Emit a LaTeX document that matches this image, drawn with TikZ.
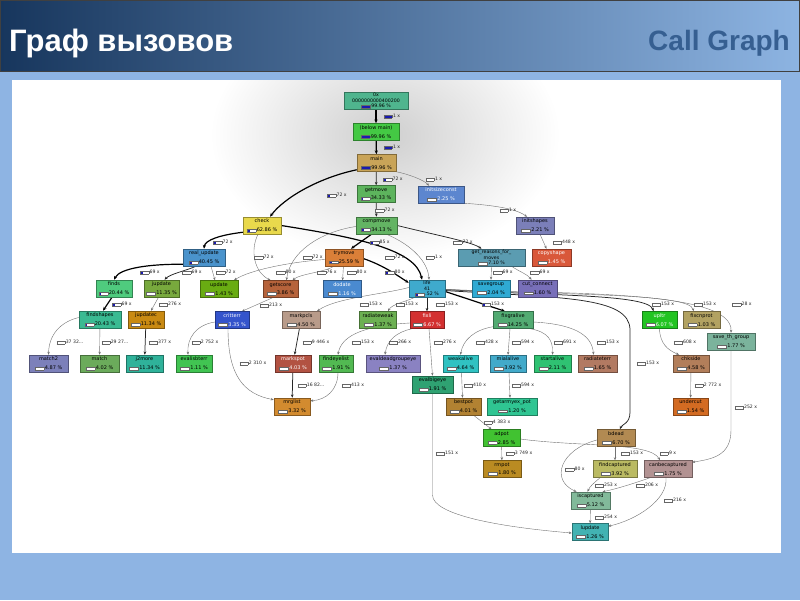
\documentclass[tikz,border=0pt]{standalone}
\usepackage{fontspec}
\setmainfont{DejaVu Sans}
\newfontfamily\hdrfont{Liberation Sans}
\usetikzlibrary{arrows.meta}
\pgfdeclarelayer{bg}
\pgfdeclarelayer{edges}
\pgfsetlayers{bg,edges,main}
\definecolor{bgblue}{HTML}{8EB4E3}
\definecolor{hdrL}{HTML}{17365D}
\definecolor{hdrR}{HTML}{8DB4E2}
\definecolor{hdrtxt}{HTML}{365F91}
\definecolor{barblue}{HTML}{1A1AB0}
\definecolor{c0x}{HTML}{4FB58E}
\definecolor{cbelow}{HTML}{44C944}
\definecolor{cmain}{HTML}{C9A458}
\definecolor{cgetmove}{HTML}{5DB45D}
\definecolor{cinitsc}{HTML}{5C86CF}
\definecolor{ccheck}{HTML}{E9D94C}
\definecolor{ccompmove}{HTML}{63B463}
\definecolor{cinitshapes}{HTML}{7B7FB9}
\definecolor{crealupd}{HTML}{4A93CC}
\definecolor{ctrymove}{HTML}{DA7F38}
\definecolor{cgetreasons}{HTML}{5B9CB1}
\definecolor{ccopyshape}{HTML}{D9583A}
\definecolor{cfinds}{HTML}{4FCB7E}
\definecolor{cjupdate}{HTML}{78A93D}
\definecolor{cupdate}{HTML}{69AC12}
\definecolor{cgetscore}{HTML}{B6633B}
\definecolor{cdodate}{HTML}{4A8AD0}
\definecolor{clife}{HTML}{3FAACD}
\definecolor{csavegroup}{HTML}{2FAAD3}
\definecolor{ccutconn}{HTML}{786FB9}
\definecolor{cfindshapes}{HTML}{3ABA92}
\definecolor{cjupdatec}{HTML}{C98A12}
\definecolor{ccritterr}{HTML}{3454CC}
\definecolor{cmarkpcls}{HTML}{B89B8A}
\definecolor{cradweak}{HTML}{6CB052}
\definecolor{cfixli}{HTML}{D33030}
\definecolor{cfixgral}{HTML}{52AB72}
\definecolor{cupltr}{HTML}{22C422}
\definecolor{cfixcn}{HTML}{B2A262}
\definecolor{csavethg}{HTML}{7BB39C}
\definecolor{cmatch2}{HTML}{7C80BA}
\definecolor{cmatch}{HTML}{6BAB5B}
\definecolor{cj2more}{HTML}{2FB29A}
\definecolor{cevalisb}{HTML}{41C452}
\definecolor{cmarkspot}{HTML}{B25242}
\definecolor{cfindeye}{HTML}{52B952}
\definecolor{cevaldead}{HTML}{8A82C2}
\definecolor{cweak}{HTML}{30C2C2}
\definecolor{cmial}{HTML}{42AACA}
\definecolor{cstart}{HTML}{2FC272}
\definecolor{cradterr}{HTML}{B27A62}
\definecolor{cchkside}{HTML}{B27E5A}
\definecolor{cevalbig}{HTML}{2FA272}
\definecolor{cmrglist}{HTML}{D38B2F}
\definecolor{cbestpot}{HTML}{B28232}
\definecolor{cgetarmy}{HTML}{2FC592}
\definecolor{cundercut}{HTML}{D36B22}
\definecolor{cadpot}{HTML}{41C231}
\definecolor{cbdead}{HTML}{B28A52}
\definecolor{crmpot}{HTML}{BA8B22}
\definecolor{cfindcap}{HTML}{BABA62}
\definecolor{ccanbe}{HTML}{B29292}
\definecolor{ciscap}{HTML}{82BA9A}
\definecolor{clupdate}{HTML}{42B2B2}
\newcommand\pbar[3]{{\setlength\fboxsep{0pt}\setlength\fboxrule{0.3pt}\fcolorbox{black!60}{white}{\textcolor{barblue}{\rule{#3\dimexpr#1\relax}{#2}}\hspace*{\dimexpr#1-#3\dimexpr#1\relax\relax}}}}
\newcommand\pb[1]{\pbar{9pt}{2.3pt}{#1}\kern0.6pt}
\newcommand\eb[1]{\pbar{8pt}{2.3pt}{#1}\kern0.6pt}
\begin{document}
\begin{tikzpicture}[x=1pt,y=-1pt,
  gn/.style={rectangle, fill=#1, draw=#1!65!black, line width=0.5pt, minimum height=17pt, inner sep=0pt, align=center, font=\fontsize{5}{8.6}\selectfont},
  three/.style={font=\fontsize{4.7}{5.5}\selectfont},
  el/.style={inner sep=0.3pt, font=\fontsize{4.6}{5}\selectfont, text=black!85},
  ethick/.style={line width=1.2pt, draw=black, -{Stealth[length=3.8pt,width=3.2pt]}},
  emed/.style={line width=0.75pt, draw=black!85, -{Stealth[length=3.3pt,width=2.7pt]}},
  ethin/.style={line width=0.4pt, draw=black!55, -{Stealth[length=3pt,width=2.4pt]}}]
\useasboundingbox (0,0) rectangle (800,600);
\begin{pgfonlayer}{bg}
\fill[bgblue] (0,0) rectangle (800,600);
\shade[left color=hdrL, right color=hdrR] (0,0) rectangle (800,71);
\draw[black!75, line width=0.8pt] (0.4,0.4) rectangle (799.6,71);
\fill[white] (12,80) rectangle (781,553);
\begin{scope}
\clip (12,80) rectangle (781,553);
\shade[inner color=black!19, outer color=white] (385,135) ellipse [x radius=175, y radius=125];
\end{scope}
\end{pgfonlayer}
\node[anchor=base west, text=white, font=\hdrfont\bfseries\fontsize{31}{31}\selectfont, inner sep=0] (title) at (9,51) {Граф вызовов};
\node[anchor=base east, text=hdrtxt, font=\hdrfont\bfseries\fontsize{28}{28}\selectfont, inner sep=0] (subtitle) at (790,50) {Call Graph};
% nodes
\node[gn=c0x, minimum width=64pt, three] (n0x) at (376,100.5) {0x\\0000000000400200\\\pb{1}99.96 \%};
\node[gn=cbelow, minimum width=46pt] (nbelow) at (376,132) {(below main)\\\pb{1}99.96 \%};
\node[gn=cmain, minimum width=39pt] (nmain) at (376.5,163) {main\\\pb{1}99.96 \%};
\node[gn=cgetmove, minimum width=38pt] (ngetmove) at (376,194) {getmove\\\pb{0.2}34.33 \%};
\node[gn=cinitsc, minimum width=46pt, text=white] (ninitsc) at (441,194.5) {initsizeconst\\\pb{0}2.25 \%};
\node[gn=ccheck, minimum width=38pt] (ncheck) at (262,225.5) {check\\\pb{0.3}62.86 \%};
\node[gn=ccompmove, minimum width=41pt] (ncompmove) at (376.5,225.5) {compmove\\\pb{0.25}34.13 \%};
\node[gn=cinitshapes, minimum width=38pt] (ninitshapes) at (535,225.5) {initshapes\\\pb{0}2.21 \%};
\node[gn=crealupd, minimum width=42pt] (nrealupd) at (204,257.5) {real\_update\\\pb{0.3}40.45 \%};
\node[gn=ctrymove, minimum width=38pt] (ntrymove) at (344,257.5) {trymove\\\pb{0.3}25.59 \%};
\node[gn=cgetreasons, minimum width=67pt, three] (ngetreasons) at (491.5,257.5) {get\_reasons\_for\_\\moves\\\pb{0}7.10 \%};
\node[gn=ccopyshape, minimum width=39pt, text=white] (ncopyshape) at (551.5,257.5) {copyshape\\\pb{0}1.45 \%};
\node[gn=cfinds, minimum width=36pt] (nfinds) at (114,288.5) {finds\\\pb{0.25}20.44 \%};
\node[gn=cjupdate, minimum width=35pt] (njupdate) at (161.5,288.5) {jupdate\\\pb{0}11.35 \%};
\node[gn=cupdate, minimum width=38pt] (nupdate) at (219,289) {update\\\pb{0}1.43 \%};
\node[gn=cgetscore, minimum width=35pt] (ngetscore) at (280.5,289) {getscore\\\pb{0}3.86 \%};
\node[gn=cdodate, minimum width=38pt, text=white] (ndodate) at (342,289) {dodate\\\pb{0}1.16 \%};
\node[gn=clife, minimum width=36pt, three] (nlife) at (427,288.5) {life\\41\\\pb{0.3}.52 \%};
\node[gn=csavegroup, minimum width=38pt] (nsavegroup) at (491,288.5) {savegroup\\\pb{0}2.04 \%};
\node[gn=ccutconn, minimum width=39pt] (ncutconnect) at (537.5,288.5) {cut\_connect\\\pb{0}1.60 \%};
\node[gn=cfindshapes, minimum width=42pt] (nfindshapes) at (100,319.5) {findshapes\\\pb{0.25}20.43 \%};
\node[gn=cjupdatec, minimum width=36pt] (njupdatec) at (146,319.5) {jupdatec\\\pb{0}11.34 \%};
\node[gn=ccritterr, minimum width=34pt, text=white] (ncritterr) at (232,320) {critterr\\\pb{0}3.35 \%};
\node[gn=cmarkpcls, minimum width=38pt] (nmarkpcls) at (301,320) {markpcls\\\pb{0}4.50 \%};
\node[gn=cradweak, minimum width=37pt] (nradweak) at (378,320) {radiateweak\\\pb{0}1.37 \%};
\node[gn=cfixli, minimum width=34pt, text=white] (nfixli) at (427,320) {fixli\\\pb{0}6.67 \%};
\node[gn=cfixgral, minimum width=40pt] (nfixgralive) at (513,320) {fixgralive\\\pb{0}14.25 \%};
\node[gn=cupltr, minimum width=35pt, text=white] (nupltr) at (659.5,320) {upltr\\\pb{0}6.07 \%};
\node[gn=cfixcn, minimum width=37pt] (nfixcnprot) at (701.5,320) {fixcnprot\\\pb{0}1.03 \%};
\node[gn=csavethg, minimum width=48pt] (nsavethg) at (731,341.5) {save\_th\_group\\\pb{0}1.77 \%};
\node[gn=cmatch2, minimum width=39pt] (nmatch2) at (48.5,363.5) {match2\\\pb{0}4.87 \%};
\node[gn=cmatch, minimum width=39pt] (nmatch) at (99.5,363.5) {match\\\pb{0}4.02 \%};
\node[gn=cj2more, minimum width=37pt] (nj2more) at (144.5,363.5) {j2more\\\pb{0}11.34 \%};
\node[gn=cevalisb, minimum width=36pt] (nevalisb) at (194,363.5) {evalisbterr\\\pb{0}1.11 \%};
\node[gn=cmarkspot, minimum width=36pt, text=white] (nmarkspot) at (293,363.5) {markspot\\\pb{0}4.03 \%};
\node[gn=cfindeye, minimum width=34pt] (nfindeye) at (336,363.5) {findeyelist\\\pb{0}1.91 \%};
\node[gn=cevaldead, minimum width=54pt] (nevaldead) at (393,363.5) {evaldeadgroupeye\\\pb{0}1.37 \%};
\node[gn=cweak, minimum width=35pt] (nweakalive) at (460.5,363.5) {weakalive\\\pb{0}4.64 \%};
\node[gn=cmial, minimum width=36pt] (nmialalive) at (508,363.5) {mialalive\\\pb{0}3.92 \%};
\node[gn=cstart, minimum width=37pt] (nstartalive) at (552.5,363.5) {startalive\\\pb{0}2.11 \%};
\node[gn=cradterr, minimum width=39pt] (nradterr) at (597.5,363.5) {radiateterr\\\pb{0}1.65 \%};
\node[gn=cchkside, minimum width=36pt] (nchkside) at (691,363.5) {chkside\\\pb{0}4.58 \%};
\node[gn=cevalbig, minimum width=41pt] (nevalbig) at (432.5,384.5) {evalbigeye\\\pb{0}1.91 \%};
\node[gn=cmrglist, minimum width=36pt] (nmrglist) at (292,406.5) {mrglist\\\pb{0}3.32 \%};
\node[gn=cbestpot, minimum width=35pt] (nbestpot) at (463.5,406.5) {bestpot\\\pb{0}4.01 \%};
\node[gn=cgetarmy, minimum width=50pt] (ngetarmy) at (512,406.5) {getarmyex\_pot\\\pb{0}1.20 \%};
\node[gn=cundercut, minimum width=35pt] (nundercut) at (690.5,406.5) {undercut\\\pb{0}1.54 \%};
\node[gn=cadpot, minimum width=37pt] (nadpot) at (501.5,438) {adpot\\\pb{0}2.85 \%};
\node[gn=cbdead, minimum width=38pt] (nbdead) at (616,438) {bdead\\\pb{0}6.70 \%};
\node[gn=crmpot, minimum width=38pt] (nrmpot) at (502,469) {rmpot\\\pb{0}1.80 \%};
\node[gn=cfindcap, minimum width=44pt] (nfindcap) at (615,469) {findcaptured\\\pb{0}3.92 \%};
\node[gn=ccanbe, minimum width=48pt] (ncanbe) at (668,469) {canbecaptured\\\pb{0}1.75 \%};
\node[gn=ciscap, minimum width=39pt] (niscap) at (590.5,500.5) {iscaptured\\\pb{0}5.12 \%};
\node[gn=clupdate, minimum width=36pt] (nlupdate) at (590,532) {lupdate\\\pb{0}1.26 \%};
% edge labels
\node[el] (l1) at (392,116) {\eb{1}1 x};
\node[el] (l2) at (392,147) {\eb{1}1 x};
\node[el] (l3) at (393,179) {\eb{0.3}72 x};
\node[el] (l4) at (434,179) {\eb{0}1 x};
\node[el] (l5) at (337,195) {\eb{0.3}72 x};
\node[el] (l6) at (385,210) {\eb{0}72 x};
\node[el] (l7) at (508,210) {\eb{0}1 x};
\node[el] (l8) at (223,242) {\eb{0.3}72 x};
\node[el] (l9) at (380,242) {\eb{0.3}85 x};
\node[el] (l10) at (463,242) {\eb{0}72 x};
\node[el] (l11) at (564,242) {\eb{0}448 x};
\node[el] (l12) at (395,257) {\eb{0}72 x};
\node[el] (l13) at (434,257) {\eb{0}1 x};
\node[el] (l14) at (264,257) {\eb{0}72 x};
\node[el] (l15) at (313,257) {\eb{0}72 x};
\node[el] (l16) at (150,272) {\eb{0.3}69 x};
\node[el] (l17) at (192,272) {\eb{0}69 x};
\node[el] (l18) at (226,272) {\eb{0}72 x};
\node[el] (l19) at (286,272) {\eb{0}80 x};
\node[el] (l20) at (327,272) {\eb{0}76 x};
\node[el] (l21) at (357,272) {\eb{0}80 x};
\node[el] (l22) at (395,272) {\eb{0.3}80 x};
\node[el] (l23) at (503,272) {\eb{0}69 x};
\node[el] (l24) at (540,272) {\eb{0}69 x};
\node[el] (l25) at (122,304) {\eb{0.3}69 x};
\node[el] (l26) at (170,304) {\eb{0}276 x};
\node[el] (l27) at (271,305) {\eb{0}213 x};
\node[el] (l28) at (371,304) {\eb{0}153 x};
\node[el] (l29) at (407,304) {\eb{0}153 x};
\node[el] (l30) at (447,304) {\eb{0}153 x};
\node[el] (l31) at (493,304) {\eb{0.3}153 x};
\node[el] (l32) at (663,304) {\eb{0}153 x};
\node[el] (l33) at (705,304) {\eb{0}153 x};
\node[el] (l34) at (742,304) {\eb{0}28 x};
\node[el] (l35) at (648,363) {\eb{0}153 x};
\node[el] (l36) at (70,342) {\eb{0}37 32...};
\node[el] (l37) at (115,342) {\eb{0}29 27...};
\node[el] (l38) at (160,342) {\eb{0}377 x};
\node[el] (l39) at (205,342) {\eb{0}2 752 x};
\node[el] (l40) at (316,342) {\eb{0}9 446 x};
\node[el] (l41) at (363,342) {\eb{0}153 x};
\node[el] (l42) at (400,342) {\eb{0}266 x};
\node[el] (l43) at (445,342) {\eb{0}276 x};
\node[el] (l44) at (487,342) {\eb{0}428 x};
\node[el] (l45) at (523,342) {\eb{0}594 x};
\node[el] (l46) at (565,342) {\eb{0}691 x};
\node[el] (l47) at (608,342) {\eb{0}153 x};
\node[el] (l48) at (685,342) {\eb{0}608 x};
\node[el] (l49) at (746,407) {\eb{0}252 x};
\node[el] (l50) at (253,363) {\eb{0}2 310 x};
\node[el] (l51) at (311,385) {\eb{0}16 82...};
\node[el] (l52) at (353,385) {\eb{0}413 x};
\node[el] (l53) at (475,385) {\eb{0}410 x};
\node[el] (l54) at (523,385) {\eb{0}594 x};
\node[el] (l55) at (708,385) {\eb{0}2 772 x};
\node[el] (l56) at (497,422) {\eb{0}4 383 x};
\node[el] (l57) at (519,453) {\eb{0}3 749 x};
\node[el] (l58) at (668,453) {\eb{0}9 x};
\node[el] (l59) at (447,453) {\eb{0}151 x};
\node[el] (l60) at (632,453) {\eb{0}153 x};
\node[el] (l61) at (575,469) {\eb{0}80 x};
\node[el] (l62) at (606,485) {\eb{0}253 x};
\node[el] (l63) at (647,485) {\eb{0}206 x};
\node[el] (l64) at (675,500) {\eb{0}216 x};
\node[el] (l65) at (606,517) {\eb{0}254 x};
% edges
\begin{pgfonlayer}{edges}
\draw[ethick] (n0x) -- (nbelow);
\draw[ethick] (nbelow) -- (nmain);
\draw[emed] (nmain) -- (ngetmove);
\draw[ethin] (nmain.south east) .. controls (408,174) and (424,180) .. ([xshift=-12pt]ninitsc.north);
\draw[ethick] ([yshift=2pt]nmain.south west) .. controls (318,178) and (284,198) .. ([xshift=8pt]ncheck.north);
\draw[emed] (ngetmove) -- (ncompmove);
\draw[ethin] (ninitsc.south east) .. controls (490,205) and (515,208) .. ([xshift=-8pt]ninitshapes.north);
\draw[ethick] ([yshift=2pt]ncheck.south west) .. controls (220,235) and (205,240) .. (nrealupd.north);
\draw[ethick] ([xshift=-5pt]ncompmove.south) -- ([xshift=7pt]ntrymove.north);
\draw[emed] (ncompmove.east) .. controls (440,236) and (472,242) .. ([xshift=-10pt]ngetreasons.north);
\draw[ethin] ([xshift=5pt]ninitshapes.south) -- ([xshift=-5pt]ncopyshape.north);
\draw[ethick] (ncheck.east) .. controls (360,238) and (416,250) .. ([xshift=-5pt]nlife.north);
\draw[ethin] ([xshift=10pt]ncompmove.south) .. controls (412,245) and (428,262) .. ([xshift=2pt]nlife.north);
\draw[ethin] ([xshift=-4pt]ncheck.south) .. controls (250,250) and (254,272) .. ([xshift=-10pt]ngetscore.north);
\draw[ethin] ([yshift=-1pt]ncompmove.west) .. controls (320,232) and (290,252) .. ([xshift=6pt]ngetscore.north);
\draw[ethick] ([yshift=2pt]nrealupd.south west) .. controls (150,264) and (120,268) .. (nfinds.north);
\draw[emed] ([xshift=-8pt]nrealupd.south) .. controls (188,270) and (170,274) .. ([xshift=3pt]njupdate.north);
\draw[ethin] ([xshift=7pt]nrealupd.south) -- ([xshift=-4pt]nupdate.north);
\draw[ethin] ([yshift=-2pt]ntrymove.west) .. controls (290,262) and (250,270) .. ([xshift=15pt]nupdate.north);
\draw[ethin] ([xshift=-10pt]ntrymove.south) .. controls (325,272) and (300,274) .. ([xshift=12pt]ngetscore.north);
\draw[ethin] (ntrymove) -- (ndodate);
\draw[ethick] ([yshift=-1pt]ntrymove.east) .. controls (385,266) and (398,276) .. ([yshift=-3pt]nlife.north west);
\draw[ethin] (ngetreasons.south) -- (nsavegroup.north);
\draw[ethin] ([xshift=20pt]ngetreasons.south) .. controls (520,272) and (527,274) .. ([xshift=-6pt]ncutconnect.north);
\draw[ethick] ([xshift=-2pt]nfinds.south) -- ([xshift=3pt]nfindshapes.north);
\draw[ethin] ([xshift=-3pt]njupdate.south) -- ([xshift=5pt]njupdatec.north);
\draw[ethin] ([xshift=-8pt]ngetscore.south) -- ([xshift=10pt]ncritterr.north);
\draw[ethin] ([yshift=1pt]nlife.west) .. controls (385,294) and (335,298) .. ([xshift=16pt]nmarkpcls.north);
\draw[ethin] ([xshift=-12pt]nlife.south) .. controls (405,302) and (392,304) .. ([xshift=10pt]nradweak.north);
\draw[emed] (nlife) -- (nfixli);
\draw[ethick] ([yshift=-3pt]nlife.east) -- ([xshift=-8pt]nfixgralive.north);
\draw[emed] ([yshift=-1pt]nlife.east) .. controls (550,296) and (648,294) .. ([xshift=-6pt]nupltr.north);
\draw[ethin] ([yshift=-1pt]nlife.east) .. controls (560,295) and (690,293) .. ([xshift=-8pt]nfixcnprot.north);
\draw[ethin] ([yshift=-1pt]nlife.east) .. controls (570,294) and (733,290) .. (nsavethg.north);
\draw[emed] ([yshift=-2pt]nlife.east) .. controls (560,298) and (630,296) .. (630,330) -- (630,412) .. controls (630,424) and (622,424) .. ([xshift=4pt]nbdead.north);
\draw[ethin] ([yshift=2pt]nfindshapes.west) .. controls (60,322) and (49,335) .. (nmatch2.north);
\draw[ethin] (nfindshapes) -- (nmatch);
\draw[emed] (njupdatec) -- (nj2more);
\draw[ethin] ([yshift=-2pt]ncritterr.west) .. controls (196,325) and (187,338) .. ([xshift=-6pt]nevalisb.north);
\draw[emed] (nmarkpcls) -- (nmarkspot);
\draw[ethin] ([yshift=-3pt]nfixli.west) .. controls (358,326) and (341,338) .. ([xshift=2pt]nfindeye.north);
\draw[ethin] ([xshift=2pt]nfixli.south west) .. controls (397,332) and (387,340) .. ([xshift=-8pt]nevaldead.north);
\draw[ethin] ([xshift=2pt]nfixli.south) -- (nevalbig.north);
\draw[ethin] ([yshift=2pt]nfixgralive.south west) .. controls (474,330) and (463,340) .. (nweakalive.north);
\draw[ethin] ([xshift=-3pt]nfixgralive.south) -- (nmialalive.north);
\draw[ethin] ([xshift=-3pt]nfixgralive.south east) .. controls (548,332) and (553,340) .. (nstartalive.north);
\draw[ethin] ([yshift=-2pt]nfixgralive.east) .. controls (572,324) and (592,334) .. ([xshift=-4pt]nradterr.north);
\draw[ethin] (nupltr.south) .. controls (660,344) and (668,350) .. ([xshift=-12pt]nchkside.north);
\draw[ethin] (nsavethg.south) -- (731,430) .. controls (731,456) and (712,459) .. ([yshift=-2pt]ncanbe.north east);
\draw[ethin] ([xshift=-4pt]ncritterr.south) .. controls (228,376) and (244,394) .. ([yshift=-2pt]nmrglist.north west);
\draw[emed] (nmarkspot) -- (nmrglist);
\draw[ethin] ([xshift=2pt]nfindeye.south) .. controls (338,390) and (326,400) .. ([yshift=-3pt]nmrglist.north east);
\draw[ethin] ([xshift=1pt]nweakalive.south) -- ([xshift=-1pt]nbestpot.north);
\draw[ethin] ([xshift=1pt]nmialalive.south) -- ([xshift=-2pt]ngetarmy.north);
\draw[ethin] (nchkside) -- (nundercut);
\draw[ethin] ([xshift=10pt]nbestpot.south) -- ([xshift=-10pt]nadpot.north);
\draw[ethin] (nadpot) -- (nrmpot);
\draw[ethin] ([yshift=-1pt]nadpot.east) .. controls (580,447) and (650,442) .. ([xshift=-8pt]ncanbe.north);
\draw[ethin] (nevalbig.south) -- (432.5,495) .. controls (432.5,515) and (500,527) .. ([yshift=-1pt]nlupdate.west);
\draw[ethin] ([xshift=-1pt]nbdead.south) -- (nfindcap.north);
\draw[ethin] ([yshift=-2pt]nbdead.west) .. controls (560,450) and (550,480) .. ([xshift=-14pt]niscap.north);
\draw[ethin] ([xshift=-15pt]nfindcap.south) .. controls (594,483) and (590,486) .. ([xshift=-3pt]niscap.north);
\draw[ethin] ([xshift=-18pt]ncanbe.south) .. controls (632,484) and (616,489) .. ([xshift=12pt]niscap.north);
\draw[ethin] ([xshift=-2pt]ncanbe.south) .. controls (668,500) and (636,520) .. ([yshift=-3pt]nlupdate.north east);
\draw[ethin] (niscap) -- (nlupdate);
\end{pgfonlayer}
\end{tikzpicture}
\end{document}
